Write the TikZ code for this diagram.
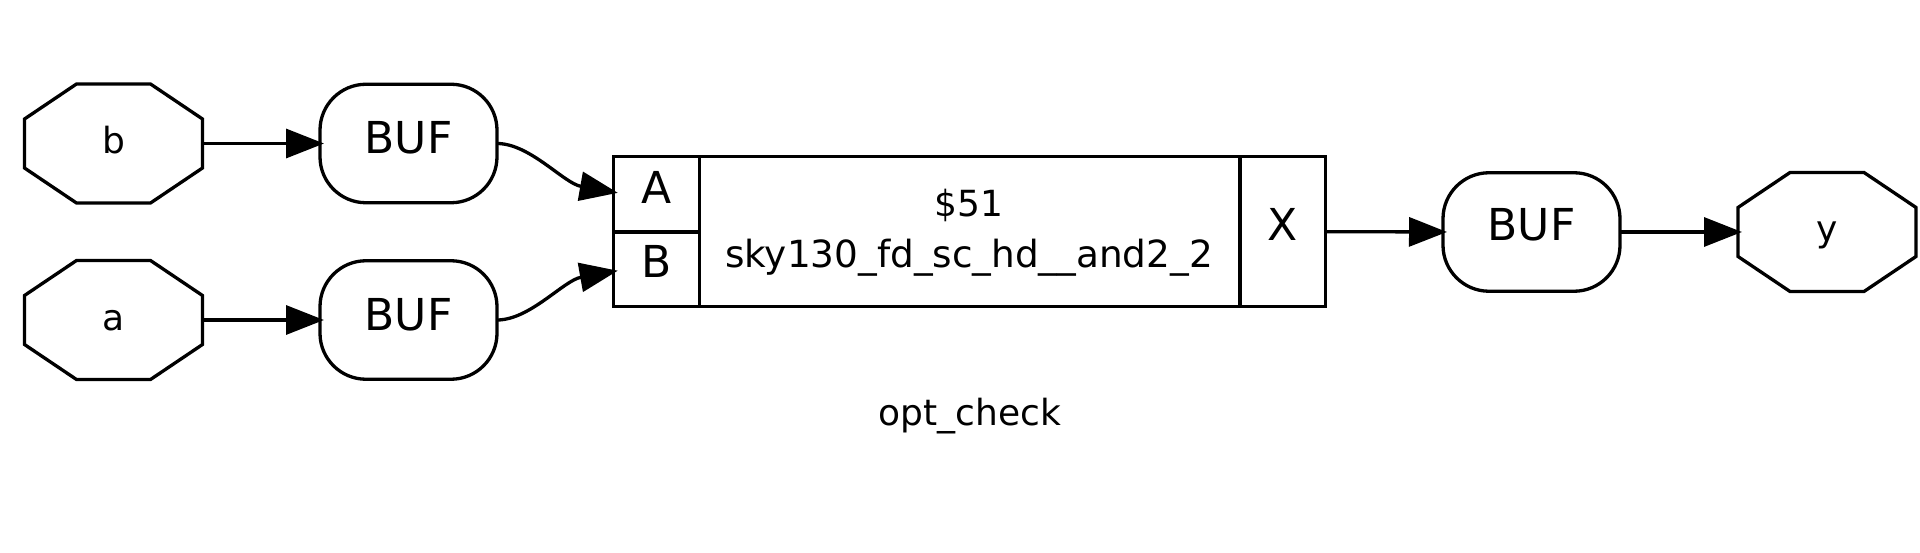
\documentclass[tikz,border=0pt]{standalone}
\usepackage{fontspec}
\setmainfont{DejaVu Sans}
\usetikzlibrary{arrows.meta,calc}
\tikzset{
  wire/.style={line width=3.3pt,draw=black,line join=miter},
  conn/.style={wire,-{Triangle[length=38pt,width=29pt,fill=black]}},
  octbox/.style={inner sep=0pt,outer sep=0pt,minimum width=178pt,minimum height=119pt,font=\fontsize{36}{40}\selectfont},
  bufbox/.style={wire,rounded corners=46pt,inner sep=0pt,outer sep=0pt,minimum width=177pt,minimum height=118.5pt},
  cellbox/.style={wire,inner sep=0pt,outer sep=0pt},
  big/.style={inner sep=0pt,font=\fontsize{44}{48}\selectfont},
  lbl/.style={inner sep=0pt,font=\fontsize{36}{40}\selectfont}
}
\newcommand{\octo}[1]{%
  \draw[wire] ($(#1.north west)+(52,0)$) -- ($(#1.north east)+(-52,0)$)
    -- ($(#1.north east)+(0,35)$) -- ($(#1.south east)+(0,-35)$)
    -- ($(#1.south east)+(-52,0)$) -- ($(#1.south west)+(52,0)$)
    -- ($(#1.south west)+(0,-35)$) -- ($(#1.north west)+(0,35)$) -- cycle;}
\begin{document}
\begin{tikzpicture}[x=1pt,y=-1pt]
\useasboundingbox (0,0) rectangle (1920,553);
\node[octbox] (b) at (113.5,143.5) {};
\node[octbox] (a) at (113.5,320) {};
\node[octbox] (y) at (1827,232) {};
\octo{b}\octo{a}\octo{y}
\node[lbl] (bt) at (113.5,140) {b};
\node[lbl] (at) at (113.5,320.5) {a};
\node[lbl] (yt) at (1827,235) {y};
\node[bufbox,draw] (buf1) at (408.5,143.5) {};
\node[bufbox,draw] (buf2) at (408.5,320) {};
\node[bufbox,draw] (buf3) at (1531.5,232) {};
\node[big] (buf1t) at (408.5,138) {BUF};
\node[big] (buf2t) at (408.5,315) {BUF};
\node[big] (buf3t) at (1531.5,225) {BUF};
\node[cellbox,draw,minimum width=85.5pt,minimum height=75.3pt] (A) at (656.5,194.35) {};
\node[cellbox,draw,minimum width=85.5pt,minimum height=74.6pt] (B) at (656.5,269.3) {};
\node[cellbox,draw,minimum width=541pt,minimum height=149.9pt] (M) at (969.8,231.65) {};
\node[cellbox,draw,minimum width=85.5pt,minimum height=149.9pt] (X) at (1282.6,231.65) {};
\node[big] (At) at (656.5,187) {A};
\node[big] (Bt) at (656.5,261) {B};
\node[big] (Xt) at (1282.7,224) {X};
\node[lbl] (id) at (969,205) {\$51};
\node[inner sep=0pt,font=\fontsize{37.4}{40}\selectfont] (type) at (969,258) {sky130\_fd\_sc\_hd\_\_and2\_2};
\node[lbl] (title) at (970,416) {opt\_check};
\draw[conn] (b.east) -- ($(buf1.west)+(4,0)$);
\draw[conn] (a.east) -- ($(buf2.west)+(4,0)$);
\draw[conn] (X.east) -- ($(buf3.west)+(4,0)$);
\draw[conn] (buf3.east) -- ($(y.west)+(4,0)$);
\draw[conn] (buf1.east) .. controls +(33,0) and ($(A.west)+(-50,-11)$) .. ($(A.west)+(4,-1.5)$);
\draw[conn] (buf2.east) .. controls +(33,0) and ($(B.west)+(-50,11)$) .. ($(B.west)+(4,1.4)$);
\end{tikzpicture}
\end{document}
